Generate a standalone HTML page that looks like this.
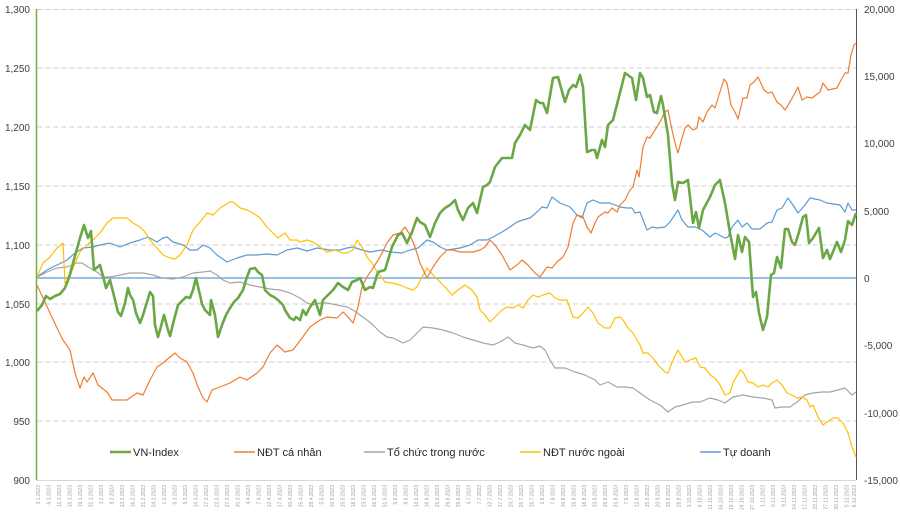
<!DOCTYPE html>
<html><head><meta charset="utf-8"><style>
html,body{margin:0;padding:0;background:#fff;}
svg{display:block;font-family:"Liberation Sans","DejaVu Sans",sans-serif;}
</style></head><body>
<svg width="900" height="514" viewBox="0 0 900 514" xmlns="http://www.w3.org/2000/svg">
<g stroke="#d0d0d0" stroke-width="1" stroke-dasharray="5,3">
<line x1="37" y1="9.5" x2="856" y2="9.5"/><line x1="37" y1="68" x2="856" y2="68"/><line x1="37" y1="127" x2="856" y2="127"/><line x1="37" y1="186" x2="856" y2="186"/><line x1="37" y1="245" x2="856" y2="245"/><line x1="37" y1="304" x2="856" y2="304"/><line x1="37" y1="362" x2="856" y2="362"/><line x1="37" y1="421" x2="856" y2="421"/>
</g>
<line x1="36.5" y1="9" x2="36.5" y2="480" stroke="#70AD47" stroke-width="1.5"/>
<line x1="856.5" y1="9" x2="856.5" y2="480" stroke="#555" stroke-width="1"/>
<line x1="36" y1="480.5" x2="856" y2="480.5" stroke="#d9d9d9" stroke-width="1"/>
<line x1="37" y1="278" x2="856" y2="278" stroke="#5B9BD5" stroke-width="1.2"/>
<g font-size="10" fill="#404040" text-anchor="end">
<text x="30" y="13">1,300</text><text x="30" y="72">1,250</text><text x="30" y="131">1,200</text><text x="30" y="190">1,150</text><text x="30" y="249">1,100</text><text x="30" y="308">1,050</text><text x="30" y="366">1,000</text><text x="30" y="425">950</text><text x="30" y="484">900</text>
</g>
<g font-size="10" fill="#404040">
<text x="864" y="13">20,000</text><text x="864" y="80">15,000</text><text x="864" y="147">10,000</text><text x="864" y="215">5,000</text><text x="864" y="282">0</text><text x="864" y="349">-5,000</text><text x="864" y="417">-10,000</text><text x="864" y="484">-15,000</text>
</g>
<g fill="none" stroke-linejoin="round">
<polyline stroke="#A5A5A5" stroke-width="1.2" points="37,277 47,272 57,268 67,267 77,263 82,263 88,267 97,272 103,277 110,277 120,275 130,273 143,273 153,275 162,278 173,279 183,277 193,273 203,272 210,271 217,275 223,280 230,283 240,282 250,285 260,287 270,289 280,290 290,293 300,298 307,303 313,305 320,303 327,303 337,305 347,307 353,310 360,315 367,320 373,325 380,332 387,337 393,338 403,343 410,340 417,333 423,327 433,328 443,330 453,333 463,337 473,340 483,343 493,345 500,342 508,337 515,343 523,345 533,348 540,346 545,350 550,360 555,368 565,368 575,372 585,375 595,380 600,385 608,382 617,387 625,387 633,388 640,393 650,400 660,405 668,412 675,407 683,405 692,402 700,402 710,398 718,400 725,403 733,397 743,395 753,397 763,398 772,400 775,408 782,407 790,407 797,402 805,395 813,393 822,392 830,392 838,390 845,388 852,395 856,392"/>
<polyline stroke="#5B9BD5" stroke-width="1.2" points="37,277 47,270 57,265 67,260 75,253 83,248 93,247 100,245 110,243 120,247 130,243 140,240 148,237 157,242 163,238 167,237 173,242 183,245 190,250 197,250 203,245 210,248 217,255 227,262 237,258 247,255 257,255 267,254 277,255 287,250 297,248 307,251 317,248 330,250 340,250 347,248 353,247 362,250 370,252 382,250 390,252 402,253 410,250 418,248 427,240 433,242 440,247 447,250 460,248 470,245 478,240 487,240 493,237 502,232 510,227 517,222 523,220 530,218 537,212 542,207 547,208 552,197 560,203 570,207 577,215 582,218 587,203 593,200 600,203 610,203 620,207 627,208 632,208 635,213 640,212 647,230 652,227 657,228 665,227 670,222 678,210 682,220 688,227 695,227 702,230 710,237 715,233 725,238 728,237 732,227 738,220 742,227 747,223 752,229 760,229 767,223 772,222 777,210 782,208 788,198 793,205 798,213 805,205 810,198 820,200 827,203 840,205 845,212 848,203 852,210 856,210"/>
<polyline stroke="#FFC000" stroke-width="1.2" points="37,277 43,263 50,257 57,248 63,243 65,283 68,283 73,268 80,252 87,245 93,240 100,233 107,223 113,218 127,218 133,223 140,227 145,232 150,240 157,248 163,255 170,258 175,259 180,255 187,245 193,230 200,222 207,213 213,215 220,208 230,202 233,202 240,208 247,210 253,213 260,218 267,227 273,233 278,238 285,233 290,240 297,240 300,242 307,240 313,242 320,247 327,252 335,250 342,253 347,253 353,250 357,240 362,247 367,257 372,263 378,273 385,282 392,283 400,285 407,288 413,290 417,287 422,277 427,268 433,275 438,280 445,287 452,295 458,290 465,285 472,290 477,297 480,310 485,315 490,322 495,317 502,310 507,307 513,308 518,305 523,308 528,300 533,295 538,297 543,295 550,293 555,298 560,300 567,300 573,317 578,318 583,313 588,307 593,313 598,323 605,328 610,328 615,318 620,317 623,320 628,328 633,333 637,340 640,345 643,353 648,353 653,358 658,365 665,372 668,373 673,360 678,350 685,362 690,360 696,358 700,367 705,368 710,375 715,378 720,385 725,395 730,393 733,383 740,370 743,372 748,382 753,383 758,387 763,385 768,387 772,383 777,380 782,385 787,393 792,395 797,398 802,397 807,400 810,407 813,405 818,417 823,425 827,422 833,418 838,418 843,423 848,433 852,447 856,457"/>
<polyline stroke="#ED7D31" stroke-width="1.2" points="37,285 43,298 50,313 57,328 63,340 70,350 75,373 80,388 84,377 87,382 93,373 98,385 107,392 112,400 120,400 127,400 137,393 143,395 150,380 157,367 163,363 170,357 175,353 180,358 187,362 193,373 198,387 203,398 207,402 212,390 220,387 230,383 240,377 247,380 257,373 263,367 270,353 277,345 285,352 293,350 302,338 310,327 320,320 327,317 337,318 343,312 348,317 353,323 358,307 362,287 367,277 373,268 380,257 387,243 393,235 400,233 405,227 410,235 415,247 420,263 427,278 433,267 440,257 447,250 453,250 460,252 467,252 473,252 480,250 485,247 490,240 495,245 502,255 510,270 517,265 522,260 528,265 535,273 540,277 547,267 552,268 557,262 563,257 568,247 573,223 577,215 583,217 587,227 591,233 595,223 598,217 605,212 608,213 612,208 617,212 620,205 625,200 630,190 633,187 637,170 639,177 643,147 647,137 650,138 655,130 660,122 665,112 668,110 672,130 675,143 678,153 682,138 685,128 688,125 693,130 697,128 699,117 703,122 707,112 712,105 715,108 719,95 724,79 727,83 731,105 735,112 738,119 743,98 747,98 750,85 754,82 758,77 764,90 768,93 772,92 777,102 781,105 785,110 790,102 795,93 798,87 802,100 807,97 812,98 816,95 820,92 823,83 828,90 833,89 837,88 841,80 845,73 848,73 851,55 854,45 856,43"/>
<polyline stroke="#6AA745" stroke-width="2.6" points="37,311 42,305 46,296 50,299 55,296 60,294 65,288 70,274 75,256 80,238 84,225 88,238 91,231 94,270 100,265 103,276 106,288 110,280 115,300 118,312 121,316 125,303 128,288 130,295 133,300 136,313 140,323 143,315 147,302 150,292 153,296 155,325 158,337 160,330 164,315 168,330 170,336 174,320 178,305 183,300 186,297 190,298 193,290 196,278 200,295 202,304 205,310 210,315 211,300 215,315 218,337 222,325 226,315 230,308 234,302 238,298 243,290 246,280 250,269 255,268 258,272 262,275 265,290 270,295 274,297 278,300 283,305 285,310 290,318 294,320 296,317 300,320 303,310 306,315 310,307 315,300 320,315 323,300 328,295 333,290 338,283 343,287 348,290 352,282 357,280 360,278 365,290 370,287 373,288 378,272 385,270 392,247 398,235 402,233 407,243 412,232 417,218 420,222 425,225 430,237 435,223 440,213 445,208 450,205 455,200 458,210 463,220 468,208 473,203 477,213 483,187 487,185 490,182 495,167 502,158 507,158 512,158 515,143 520,135 525,125 530,130 536,100 540,103 543,103 547,113 553,78 558,77 565,102 569,90 573,85 576,87 580,75 583,87 587,152 592,150 595,150 597,158 602,140 605,147 608,125 613,120 625,73 632,78 636,100 640,73 643,78 647,97 650,95 654,112 657,113 661,96 663,105 668,135 672,183 675,200 678,182 683,183 688,180 693,223 696,212 699,228 703,210 710,197 715,185 720,180 725,203 730,233 735,259 738,235 742,252 745,237 749,242 753,297 756,292 759,313 763,330 767,317 771,275 774,273 777,257 781,268 785,229 788,229 792,242 795,245 799,232 803,217 806,215 809,243 813,238 819,228 823,258 827,250 830,259 837,242 841,252 845,240 848,221 852,225 856,213"/>
</g>
<g font-size="11" fill="#262626">
<line x1="110" y1="452" x2="131" y2="452" stroke="#6AA745" stroke-width="2.6"/><text x="133" y="456">VN-Index</text>
<line x1="234" y1="452" x2="255" y2="452" stroke="#ED7D31" stroke-width="1.5"/><text x="257" y="456">NĐT cá nhân</text>
<line x1="364" y1="452" x2="385" y2="452" stroke="#A5A5A5" stroke-width="1.5"/><text x="387" y="456">Tổ chức trong nước</text>
<line x1="520" y1="452" x2="541" y2="452" stroke="#FFC000" stroke-width="1.5"/><text x="543" y="456">NĐT nước ngoài</text>
<line x1="700" y1="452" x2="721" y2="452" stroke="#5B9BD5" stroke-width="1.5"/><text x="723" y="456">Tự doanh</text>
</g>
<g font-size="5" fill="#a0a0a0" text-anchor="end">
<text transform="translate(40,485) rotate(-90)">3.1.2023</text><text transform="translate(50.5,485) rotate(-90)">6.1.2023</text><text transform="translate(61,485) rotate(-90)">11.1.2023</text><text transform="translate(71.5,485) rotate(-90)">16.1.2023</text><text transform="translate(82,485) rotate(-90)">19.1.2023</text><text transform="translate(92.5,485) rotate(-90)">31.1.2023</text><text transform="translate(103,485) rotate(-90)">3.2.2023</text><text transform="translate(113.5,485) rotate(-90)">8.2.2023</text><text transform="translate(124,485) rotate(-90)">13.2.2023</text><text transform="translate(134.5,485) rotate(-90)">16.2.2023</text><text transform="translate(145,485) rotate(-90)">21.2.2023</text><text transform="translate(155.5,485) rotate(-90)">24.2.2023</text><text transform="translate(166,485) rotate(-90)">1.3.2023</text><text transform="translate(176.5,485) rotate(-90)">6.3.2023</text><text transform="translate(187,485) rotate(-90)">9.3.2023</text><text transform="translate(197.5,485) rotate(-90)">14.3.2023</text><text transform="translate(208,485) rotate(-90)">17.3.2023</text><text transform="translate(218.5,485) rotate(-90)">22.3.2023</text><text transform="translate(229,485) rotate(-90)">27.3.2023</text><text transform="translate(239.5,485) rotate(-90)">30.3.2023</text><text transform="translate(250,485) rotate(-90)">4.4.2023</text><text transform="translate(260.5,485) rotate(-90)">7.4.2023</text><text transform="translate(271,485) rotate(-90)">12.4.2023</text><text transform="translate(281.5,485) rotate(-90)">17.4.2023</text><text transform="translate(292,485) rotate(-90)">20.4.2023</text><text transform="translate(302.5,485) rotate(-90)">25.4.2023</text><text transform="translate(313,485) rotate(-90)">28.4.2023</text><text transform="translate(323.5,485) rotate(-90)">5.5.2023</text><text transform="translate(334,485) rotate(-90)">10.5.2023</text><text transform="translate(344.5,485) rotate(-90)">15.5.2023</text><text transform="translate(355,485) rotate(-90)">18.5.2023</text><text transform="translate(365.5,485) rotate(-90)">23.5.2023</text><text transform="translate(376,485) rotate(-90)">26.5.2023</text><text transform="translate(386.5,485) rotate(-90)">31.5.2023</text><text transform="translate(397,485) rotate(-90)">5.6.2023</text><text transform="translate(407.5,485) rotate(-90)">8.6.2023</text><text transform="translate(418,485) rotate(-90)">13.6.2023</text><text transform="translate(428.5,485) rotate(-90)">16.6.2023</text><text transform="translate(439,485) rotate(-90)">21.6.2023</text><text transform="translate(449.5,485) rotate(-90)">26.6.2023</text><text transform="translate(460,485) rotate(-90)">29.6.2023</text><text transform="translate(470.5,485) rotate(-90)">4.7.2023</text><text transform="translate(481,485) rotate(-90)">7.7.2023</text><text transform="translate(491.5,485) rotate(-90)">12.7.2023</text><text transform="translate(502,485) rotate(-90)">17.7.2023</text><text transform="translate(512.5,485) rotate(-90)">20.7.2023</text><text transform="translate(523,485) rotate(-90)">25.7.2023</text><text transform="translate(533.5,485) rotate(-90)">28.7.2023</text><text transform="translate(544,485) rotate(-90)">2.8.2023</text><text transform="translate(554.5,485) rotate(-90)">7.8.2023</text><text transform="translate(565,485) rotate(-90)">10.8.2023</text><text transform="translate(575.5,485) rotate(-90)">15.8.2023</text><text transform="translate(586,485) rotate(-90)">18.8.2023</text><text transform="translate(596.5,485) rotate(-90)">23.8.2023</text><text transform="translate(607,485) rotate(-90)">28.8.2023</text><text transform="translate(617.5,485) rotate(-90)">31.8.2023</text><text transform="translate(628,485) rotate(-90)">7.9.2023</text><text transform="translate(638.5,485) rotate(-90)">12.9.2023</text><text transform="translate(649,485) rotate(-90)">15.9.2023</text><text transform="translate(659.5,485) rotate(-90)">20.9.2023</text><text transform="translate(670,485) rotate(-90)">25.9.2023</text><text transform="translate(680.5,485) rotate(-90)">28.9.2023</text><text transform="translate(691,485) rotate(-90)">3.10.2023</text><text transform="translate(701.5,485) rotate(-90)">6.10.2023</text><text transform="translate(712,485) rotate(-90)">11.10.2023</text><text transform="translate(722.5,485) rotate(-90)">16.10.2023</text><text transform="translate(733,485) rotate(-90)">19.10.2023</text><text transform="translate(743.5,485) rotate(-90)">24.10.2023</text><text transform="translate(754,485) rotate(-90)">27.10.2023</text><text transform="translate(764.5,485) rotate(-90)">1.11.2023</text><text transform="translate(775,485) rotate(-90)">6.11.2023</text><text transform="translate(785.5,485) rotate(-90)">9.11.2023</text><text transform="translate(796,485) rotate(-90)">14.11.2023</text><text transform="translate(806.5,485) rotate(-90)">17.11.2023</text><text transform="translate(817,485) rotate(-90)">22.11.2023</text><text transform="translate(827.5,485) rotate(-90)">27.11.2023</text><text transform="translate(838,485) rotate(-90)">30.11.2023</text><text transform="translate(848.5,485) rotate(-90)">5.12.2023</text><text transform="translate(856,485) rotate(-90)">8.12.2023</text>
</g>
</svg>
</body></html>
